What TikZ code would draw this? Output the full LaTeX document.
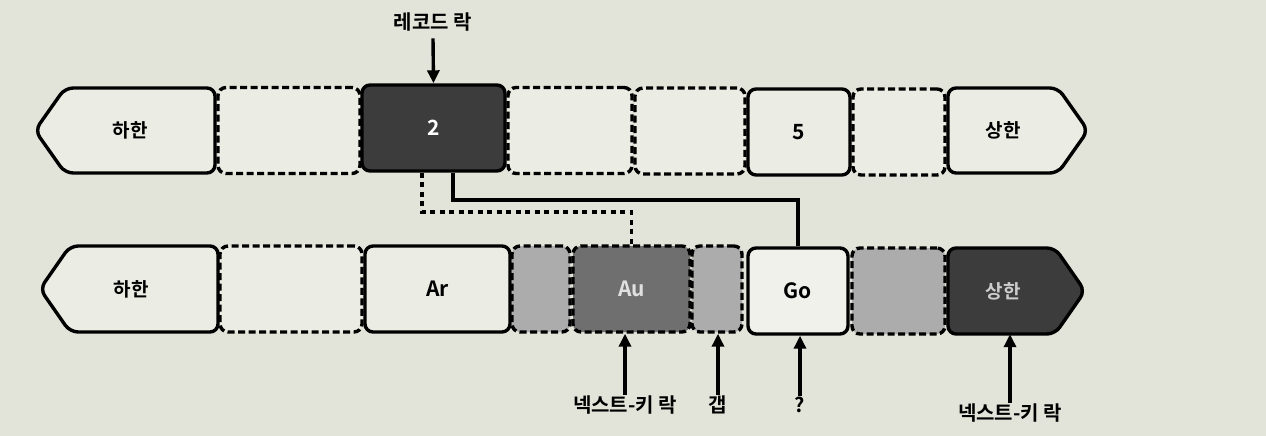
\documentclass[tikz,border=0pt]{standalone}
\usepackage{fontspec}
\setmainfont{Noto Sans CJK KR}[BoldFont={Noto Sans CJK KR Bold}]
\usetikzlibrary{arrows.meta}
\definecolor{paper}{HTML}{E2E4D9}
\definecolor{light}{HTML}{EBECE3}
\definecolor{darkfill}{HTML}{3C3C3C}
\definecolor{midfill}{HTML}{6F6F6F}
\definecolor{gapfill}{HTML}{ACACAC}
\definecolor{gofill}{HTML}{F1F1EB}
\begin{document}
\begin{tikzpicture}[x=1pt,y=-1pt,
  box/.style={draw=black, line width=3.4pt, rounded corners=8pt, minimum height=86pt, inner sep=0pt, font=\bfseries\fontsize{21}{22}\selectfont},
  solidbox/.style={box, fill=light},
  dashbox/.style={box, fill=light, dash pattern=on 7pt off 3.5pt},
  pent/.style={draw=black, line width=3.4pt, rounded corners=8pt, fill=light},
  ptext/.style={minimum width=100pt, minimum height=86pt, inner sep=0pt, font=\bfseries\fontsize{19}{20}\selectfont},
  lbl/.style={inner sep=1pt, font=\bfseries\fontsize{20}{22}\selectfont},
  arr/.style={line width=3.4pt, -{Triangle[length=13pt,width=12pt]}},
  dotline/.style={line width=3.4pt, dash pattern=on 5pt off 4.5pt},
  solidline/.style={line width=3.2pt}]
\fill[paper] (0,0) rectangle (1266,436);
\useasboundingbox (0,0) rectangle (1266,436);
% ---- top row ----
\draw[pent] (215,88) -- (65,88) -- (35,130.5) -- (65,173) -- (215,173) -- cycle;
\node[ptext] (lo1) at (130,130.5) {하한};
\node[dashbox, minimum width=142pt] (d1) at (289,130.5) {};
\node[box, fill=darkfill, text=white, minimum width=143pt] (k2) at (433.5,128) {2};
\node[dashbox, minimum width=124pt] (d2) at (570,130.5) {};
\node[dashbox, minimum width=110pt] (d3) at (690,131) {};
\node[solidbox, minimum width=102pt] (k5) at (799,132) {5};
\node[dashbox, minimum width=92pt] (d4) at (899,132) {};
\draw[pent] (948,88) -- (1058,88) -- (1088,130.5) -- (1058,173) -- (948,173) -- cycle;
\node[ptext] (hi1) at (1003,130.5) {상한};
% ---- bottom row ----
\draw[pent] (218,246) -- (70,246) -- (40,289) -- (70,332) -- (218,332) -- cycle;
\node[ptext] (lo2) at (131,289) {하한};
\node[dashbox, minimum width=142pt] (e1) at (291,289) {};
\node[solidbox, minimum width=145pt] (ar) at (437.5,289) {Ar};
\node[dashbox, fill=gapfill, minimum width=58pt] (g1) at (541,289) {};
\node[dashbox, fill=midfill, text=white!88!black, minimum width=117pt] (au) at (631.5,289) {Au};
\node[dashbox, fill=gapfill, minimum width=50pt] (g2) at (717,289) {};
\node[box, fill=gofill, minimum width=100pt] (go) at (798,291) {Go};
\node[dashbox, fill=gapfill, minimum width=93pt] (g3) at (898.5,291) {};
\draw[pent, fill=darkfill] (948,248) -- (1055,248) -- (1085,291) -- (1055,334) -- (948,334) -- cycle;
\node[ptext, text=black!20] (hi2) at (1003,291) {상한};
% ---- connectors ----
\node[lbl] (rl) at (433,22) {레코드 락};
\draw[arr] (rl.south) ++(0,6) -- (k2.north);
\coordinate (j1) at (422,212);
\coordinate (j2) at (453,200);
\draw[dotline] (k2.south -| j1) -- (j1) -| (au.north);
\draw[solidline] (k2.south -| j2) -- (j2) -| (go.north);
\node[lbl] (nk1) at (625,405) {넥스트-키 락};
\node[lbl] (gp) at (718,405) {갭};
\node[lbl] (qq) at (800,405) {?};
\node[lbl] (nk2) at (1010,413) {넥스트-키 락};
\draw[arr] (nk1.north) -- (nk1.north |- au.south);
\draw[arr] (gp.north) -- (gp.north |- g2.south);
\draw[arr] (qq.north) -- (qq.north |- go.south);
\draw[arr] (nk2.north) -- (nk2.north |- hi2.south);
\end{tikzpicture}
\end{document}
